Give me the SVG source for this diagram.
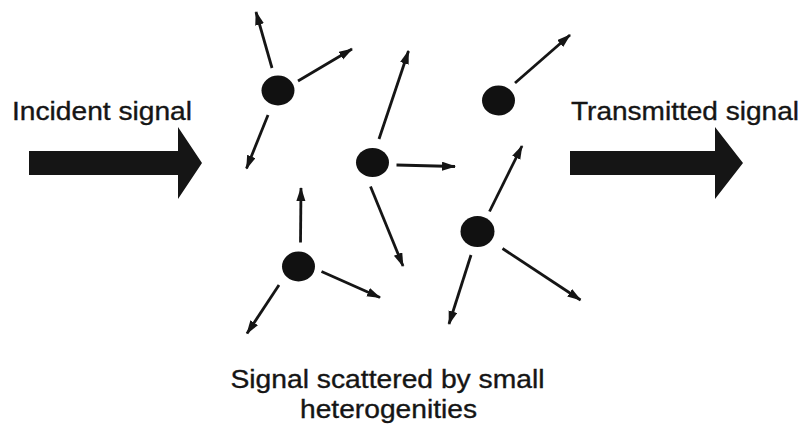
<svg xmlns="http://www.w3.org/2000/svg" width="803" height="424" viewBox="0 0 803 424">
  <style>
    .lbl { font-family: "Liberation Sans", Arial, sans-serif; font-size: 25px; fill: #151515; stroke: #151515; stroke-width: 0.35; }
    .ray { stroke: #151515; stroke-width: 2.8; fill: none; marker-end: url(#ah); }
    .dot { fill: #111; }
    .big { fill: #151515; }
  </style>
  <defs>
    <marker id="ah" markerUnits="userSpaceOnUse" markerWidth="15" markerHeight="10" refX="13" refY="4.5" orient="auto">
      <path d="M0,0 L14,4.5 L0,9 z" fill="#151515"/>
    </marker>
  </defs>

  <g id="incident">
    <text class="lbl" x="12" y="120" textLength="180" lengthAdjust="spacingAndGlyphs">Incident signal</text>
    <polygon class="big" points="29,151 178,151 178,127 202,163 178,199 178,175 29,175"/>
  </g>

  <g id="transmitted">
    <text class="lbl" x="571" y="120" textLength="228" lengthAdjust="spacingAndGlyphs">Transmitted signal</text>
    <polygon class="big" points="570,151 715,151 715,127 743,163 715,199 715,175 570,175"/>
  </g>

  <g id="caption">
    <text class="lbl" x="387.5" y="388" text-anchor="middle" textLength="314" lengthAdjust="spacingAndGlyphs">Signal scattered by small</text>
    <text class="lbl" x="388.5" y="418" text-anchor="middle" textLength="177" lengthAdjust="spacingAndGlyphs">heterogenities</text>
  </g>

  <g id="scatterer1"><ellipse class="dot" cx="278" cy="90.5" rx="16.5" ry="15"/></g>
  <g id="scatterer2"><ellipse class="dot" cx="372.5" cy="162.5" rx="16.5" ry="14.5"/></g>
  <g id="scatterer3"><ellipse class="dot" cx="498.5" cy="100.5" rx="16.5" ry="15"/></g>
  <g id="scatterer4"><ellipse class="dot" cx="477.5" cy="231.5" rx="17" ry="15.5"/></g>
  <g id="scatterer5"><ellipse class="dot" cx="298.5" cy="266.5" rx="16.5" ry="15"/></g>

  <g id="connectors">
    <line class="ray" x1="272" y1="68" x2="256" y2="12"/>
    <line class="ray" x1="298" y1="81" x2="352" y2="49"/>
    <line class="ray" x1="268" y1="115" x2="246.5" y2="168.5"/>

    <line class="ray" x1="379" y1="139" x2="408.5" y2="51"/>
    <line class="ray" x1="396.5" y1="165" x2="455" y2="166.5"/>
    <line class="ray" x1="370.5" y1="186.5" x2="403" y2="266"/>

    <line class="ray" x1="515" y1="83" x2="570" y2="35"/>

    <line class="ray" x1="489.5" y1="211.5" x2="522" y2="146"/>
    <line class="ray" x1="471" y1="255" x2="449" y2="324"/>
    <line class="ray" x1="502.5" y1="248.5" x2="580.5" y2="300"/>

    <line class="ray" x1="300.5" y1="242.5" x2="301" y2="188"/>
    <line class="ray" x1="321.5" y1="271.5" x2="380" y2="297.5"/>
    <line class="ray" x1="279" y1="285" x2="247" y2="333.5"/>
  </g>
</svg>
